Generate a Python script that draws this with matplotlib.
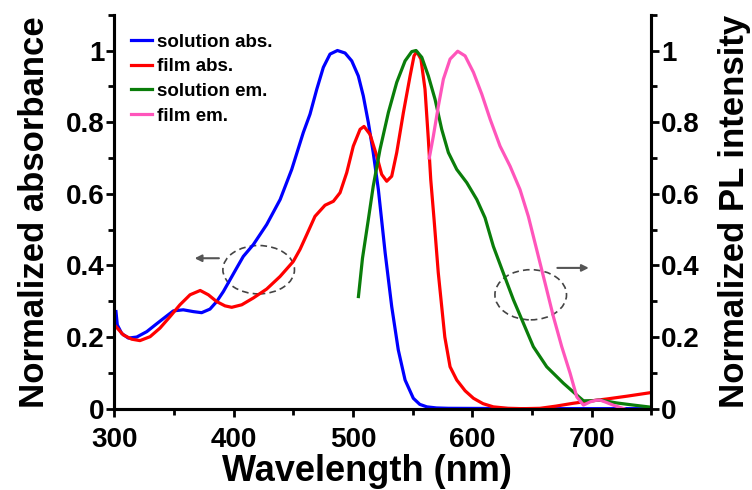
import numpy as np
import matplotlib
matplotlib.use('Agg')
import matplotlib.pyplot as plt
from matplotlib.patches import Ellipse
from matplotlib.ticker import MultipleLocator

plt.rcParams['font.family'] = ['Liberation Sans', 'DejaVu Sans']
plt.rcParams['font.weight'] = 'bold'

# solution absorption
sol_abs_x = [301.4, 302.5, 306.2, 311.8, 318.8, 327.2, 335.5, 344, 349.5, 357.8, 366.2, 373.2,
             380.2, 385.8, 391.4, 397, 402.6, 408.1, 416.5, 427.7, 439, 448.7, 458.4, 464,
             469.7, 475.2, 480.8, 487, 493.4, 499, 504.5, 508.7, 512.9, 517, 521.3, 527,
             532.5, 538, 543.7, 550.6, 556, 562, 570, 580, 650, 750]
sol_abs_y = [0.271, 0.234, 0.21, 0.197, 0.2, 0.215, 0.237, 0.259, 0.273, 0.276, 0.271, 0.268,
             0.278, 0.299, 0.327, 0.36, 0.393, 0.425, 0.458, 0.514, 0.584, 0.668, 0.771, 0.822,
             0.892, 0.953, 0.99, 1.0, 0.993, 0.971, 0.929, 0.873, 0.799, 0.715, 0.612, 0.435,
             0.285, 0.164, 0.08, 0.029, 0.012, 0.005, 0.002, 0.001, 0.0, 0.0]

# film absorption
film_abs_x = [301.4, 307.5, 314.6, 321.5, 330, 338.3, 346.7, 355, 363.5, 372, 378.8, 385.8,
              392.8, 398.4, 406.8, 416.5, 427.7, 438.9, 450, 455.7, 461.3, 468.2, 476.6,
              483.6, 489.2, 494.8, 500.3, 506, 509.3, 514.3, 520, 524.1, 528.3, 532.5, 536.7,
              542.3, 547.9, 551.2, 553.5, 557, 560.4, 563.2, 565.2, 568, 571.5, 577, 581.4,
              587, 594, 601, 609, 617.7, 630, 642.6, 656.8, 670, 684.5, 698, 712.7, 730, 750]
film_abs_y = [0.229, 0.206, 0.194, 0.19, 0.201, 0.225, 0.257, 0.29, 0.318, 0.33, 0.318, 0.299,
              0.287, 0.283, 0.29, 0.309, 0.334, 0.369, 0.411, 0.445, 0.486, 0.537, 0.568,
              0.579, 0.603, 0.659, 0.733, 0.78, 0.788, 0.766, 0.705, 0.654, 0.635, 0.649, 0.715,
              0.827, 0.929, 0.985, 0.997, 0.976, 0.892, 0.752, 0.64, 0.528, 0.38, 0.2, 0.117,
              0.08, 0.05, 0.029, 0.014, 0.005, 0.001, 0.0, 0.001, 0.007, 0.015, 0.021, 0.027,
              0.035, 0.045]

# solution emission
sol_em_x = [504.6, 508, 512.9, 517, 522.7, 529.7, 536.7, 543.7, 549.3, 552.9, 557.7, 563.2,
            568.8, 574.4, 580, 587, 595.4, 603.8, 610.7, 617.7, 626, 634.5, 642.8, 651.2,
            662.4, 676.4, 687.6, 693.2, 700, 707, 721, 735, 750]
sol_em_y = [0.313, 0.42, 0.528, 0.621, 0.724, 0.827, 0.911, 0.971, 0.997, 1.0, 0.981, 0.929,
            0.864, 0.78, 0.715, 0.668, 0.631, 0.584, 0.533, 0.453, 0.379, 0.304, 0.239, 0.173,
            0.117, 0.071, 0.038, 0.022, 0.022, 0.024, 0.016, 0.01, 0.004]

# film emission
film_em_x = [564, 567.4, 571.6, 575.8, 581.4, 587.8, 594, 601, 608, 615, 623.3, 631.7, 640,
             647, 654, 661, 668, 675, 682, 687.6, 693.2, 698.8, 703, 707, 712, 718, 727]
film_em_y = [0.70, 0.761, 0.845, 0.92, 0.976, 0.998, 0.985, 0.939, 0.878, 0.808, 0.733, 0.677,
             0.612, 0.537, 0.444, 0.351, 0.257, 0.173, 0.099, 0.033, 0.01, 0.019, 0.023, 0.024,
             0.018, 0.01, 0.0]

yticks = [0, 0.2, 0.4, 0.6, 0.8, 1.0]
ytick_labels = ['0', '0.2', '0.4', '0.6', '0.8', '1']
xticks = [300, 400, 500, 600, 700]

fig = plt.figure(figsize=(7.52, 4.9), dpi=100)
ax = fig.add_axes([0.152, 0.166, 0.714, 0.804])
ax2 = ax.twinx()

lw = 2.3
l1, = ax.plot(sol_abs_x, sol_abs_y, color='#0000ff', lw=lw, label='solution abs.')
l2, = ax.plot(film_abs_x, film_abs_y, color='#ff0000', lw=lw, label='film abs.')
l3, = ax2.plot(sol_em_x, sol_em_y, color='#0a7d0a', lw=lw, label='solution em.')
l4, = ax2.plot(film_em_x, film_em_y, color='#ff55bb', lw=lw, label='film em.')
for l in (l1, l2, l3, l4):
    l.set_solid_joinstyle('round')

for a in (ax, ax2):
    a.set_xlim(300, 750)
    a.set_ylim(0, 1.1)
    a.spines['top'].set_visible(False)
    for s in ('left', 'right', 'bottom'):
        a.spines[s].set_linewidth(2.2)
    a.yaxis.set_minor_locator(MultipleLocator(0.1))
    a.set_yticks(yticks)
    a.set_yticklabels(ytick_labels)
    a.tick_params(which='major', direction='out', length=6, width=2, labelsize=20)
    a.tick_params(which='minor', direction='out', length=4, width=2)

ax.set_xticks(xticks)
ax.xaxis.set_minor_locator(MultipleLocator(50))
ax.tick_params(axis='x', pad=7)
ax.tick_params(axis='y', pad=1)
ax2.tick_params(axis='y', pad=1)

ax.set_xlabel('Wavelength (nm)', fontsize=26, fontweight='bold')
ax.xaxis.set_label_coords(0.471, -0.115)
ax.set_ylabel('Normalized absorbance', fontsize=25, fontweight='bold', labelpad=11)
ax2.set_ylabel('Normalized PL intensity', fontsize=25, fontweight='bold', labelpad=13)

# dashed ellipses with arrows pointing to the matching axis
ax.add_patch(Ellipse((421, 0.388), 60, 0.135, fill=False, ls=(0, (4, 2.5)), lw=1.2, ec='#444444'))
ax.annotate('', xy=(365, 0.42), xytext=(390, 0.42),
            arrowprops=dict(arrowstyle='-|>', color='#555555', lw=1.5, mutation_scale=10))
ax.add_patch(Ellipse((649, 0.318), 60, 0.14, fill=False, ls=(0, (4, 2.5)), lw=1.2, ec='#444444'))
ax.annotate('', xy=(700, 0.393), xytext=(669, 0.393),
            arrowprops=dict(arrowstyle='-|>', color='#555555', lw=1.5, mutation_scale=10))

leg = ax2.legend(handles=[l1, l2, l3, l4], loc='upper left', bbox_to_anchor=(0.0, 0.995),
                 frameon=False, handlelength=1.1, handletextpad=0.3, labelspacing=0.4,
                 prop={'weight': 'bold', 'size': 13.5})

fig.savefig('out.png', dpi=100)
